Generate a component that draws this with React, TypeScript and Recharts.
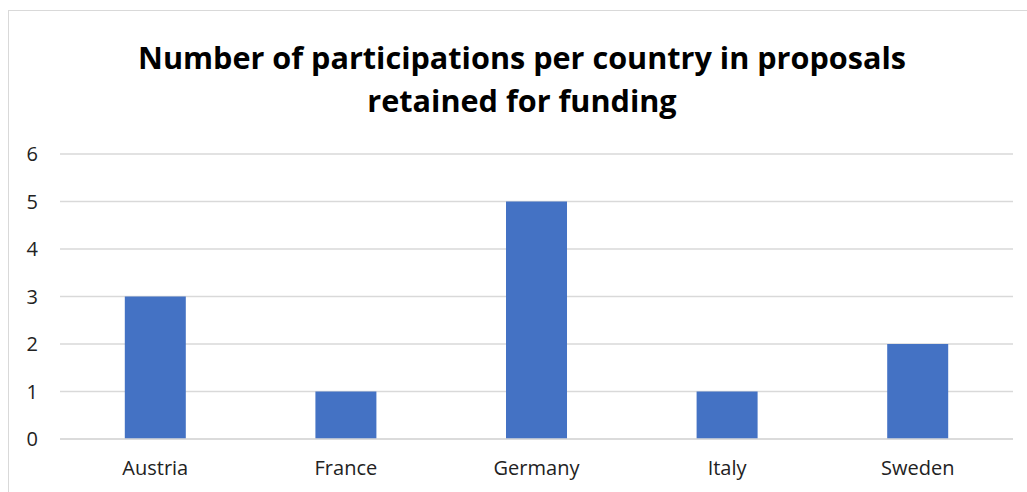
import React from "react";
import { BarChart, Bar, XAxis, YAxis, CartesianGrid } from "recharts";

const countries = ["Austria", "France", "Germany", "Italy", "Sweden"];
const participations = [3, 1, 5, 1, 2];
const yTicks = [0, 1, 2, 3, 4, 5, 6];
const titleLines = [
  "Number of participations per country in proposals",
  "retained for funding",
];

const data = countries.map((c, i) => ({ country: c, value: participations[i] }));

const FONT = "'Open Sans', sans-serif";

export default function App() {
  return (
    <div style={{ position: "absolute", left: 0, top: 0, width: 1027, height: 492, background: "#fff", overflow: "hidden" }}>
      <div
        style={{
          position: "absolute",
          left: 8,
          top: 10,
          width: 1019,
          height: 482,
          borderTop: "1px solid #d9d9d9",
          borderLeft: "1px solid #d9d9d9",
          boxSizing: "border-box",
        }}
      />
      {titleLines.map((t, i) => (
        <div
          key={i}
          style={{
            position: "absolute",
            left: 22,
            width: 1000,
            top: 37 + i * 43,
            textAlign: "center",
            fontFamily: FONT,
            fontWeight: 700,
            fontSize: 30.6,
            lineHeight: "40px",
            color: "#000",
            whiteSpace: "nowrap",
          }}
        >
          {t}
        </div>
      ))}
      <div style={{ position: "absolute", left: 0, top: 0 }}>
        <BarChart
          width={1027}
          height={492}
          data={data}
          margin={{ top: 154, right: 14, bottom: 0, left: 0 }}
          barCategoryGap="34%"
        >
          <CartesianGrid vertical={false} stroke="#d9d9d9" strokeWidth={1.3} />
          <XAxis
            dataKey="country"
            height={53}
            axisLine={{ stroke: "#d9d9d9", strokeWidth: 1.3 }}
            tickLine={false}
            tickMargin={16}
            tick={{ fill: "#222", fontSize: 20, fontFamily: FONT }}
            interval={0}
          />
          <YAxis
            width={60}
            domain={[0, 6]}
            ticks={yTicks}
            axisLine={false}
            tickLine={false}
            tickMargin={16}
            tick={{ fill: "#222", fontSize: 20, fontFamily: FONT }}
          />
          <Bar dataKey="value" fill="#4472C4" isAnimationActive={false} />
        </BarChart>
      </div>
    </div>
  );
}
